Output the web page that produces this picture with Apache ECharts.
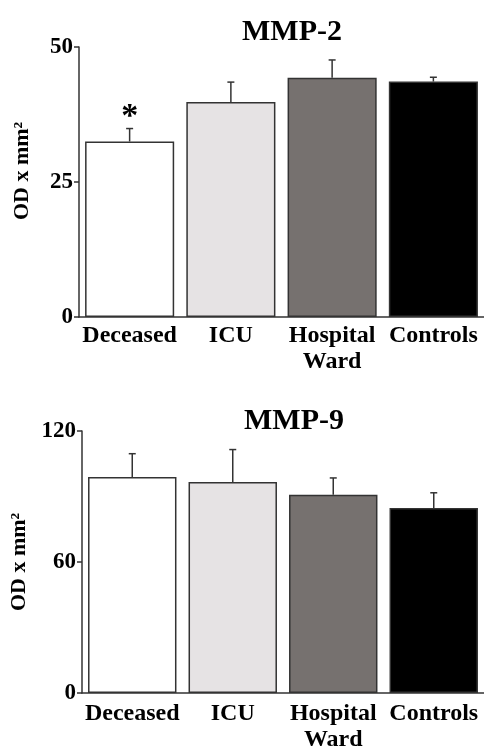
<!DOCTYPE html>
<html>
<head>
<meta charset="utf-8">
<script src="https://cdn.jsdelivr.net/npm/echarts@6/dist/echarts.min.js"></script>
<style>
html,body{margin:0;padding:0;background:#fff;}
#c{width:484px;height:753px;}
</style>
</head>
<body>
<div id="c"></div>
<script>
// ---- data ----
const categories = ['Deceased', 'ICU', 'Hospital\nWard', 'Controls'];
const barColors = ['#ffffff', '#e6e3e4', '#76716f', '#000000'];
const mmp2Mean = [32.5, 39.8, 44.3, 43.6];
const mmp2Err = [2.4, 3.7, 3.3, 0.8];
const mmp2Sig = ['*', '', '', ''];
const mmp9Mean = [98.9, 96.6, 90.8, 84.7];
const mmp9Err = [10.7, 14.9, 7.7, 7.0];
const mmp9Sig = ['', '', '', ''];
const mmp2Ticks = { min: 0, max: 50, interval: 25 };
const mmp9Ticks = { min: 0, max: 120, interval: 60 };
const titles = ['MMP-2', 'MMP-9'];
const yName = 'OD x mm\u00B2';

const FONT = '"Liberation Serif", "Times New Roman", serif';
const AX = '#333';

function errSeries(axisIdx, mean, err, sig) {
  return {
    type: 'custom',
    xAxisIndex: axisIdx, yAxisIndex: axisIdx,
    z: 5,
    data: mean.map((m, i) => [i, m, err[i]]),
    renderItem: function (params, api) {
      const i = api.value(0), m = api.value(1), e = api.value(2);
      const p0 = api.coord([i, m]);
      const p1 = api.coord([i, m + e]);
      const children = [
        { type: 'line', shape: { x1: p0[0], y1: p0[1], x2: p1[0], y2: p1[1] }, style: { stroke: AX, lineWidth: 1.5 } },
        { type: 'line', shape: { x1: p1[0] - 3.5, y1: p1[1], x2: p1[0] + 3.5, y2: p1[1] }, style: { stroke: AX, lineWidth: 1.5 } }
      ];
      const s = sig[params.dataIndex];
      if (s) {
        children.push({ type: 'text', style: { text: s, x: p1[0], y: p1[1] + 6, align: 'center', verticalAlign: 'bottom', font: 'bold 34px ' + FONT, fill: '#000' } });
      }
      return { type: 'group', children: children };
    }
  };
}

function barSeries(axisIdx, mean) {
  return {
    type: 'bar',
    xAxisIndex: axisIdx, yAxisIndex: axisIdx,
    barCategoryGap: '12%',
    data: mean.map((v, i) => ({ value: v, itemStyle: { color: barColors[i] } })),
    itemStyle: { borderColor: AX, borderWidth: 1.5 }
  };
}

function xAx(idx, margin) {
  return {
    type: 'category', gridIndex: idx, data: categories,
    axisLine: { lineStyle: { color: AX, width: 1.5 } },
    axisTick: { alignWithLabel: true, length: 5, lineStyle: { color: AX, width: 1.5 } },
    axisLabel: { interval: 0, color: '#000', fontFamily: FONT, fontWeight: 'bold', fontSize: 24, lineHeight: 26, margin: margin }
  };
}
function yAx(idx, t, pad) {
  return {
    type: 'value', gridIndex: idx, min: t.min, max: t.max, interval: t.interval,
    name: yName, nameLocation: 'middle', nameGap: 46, nameRotate: 90,
    nameTextStyle: { color: '#000', fontFamily: FONT, fontWeight: 'bold', fontSize: 22, padding: pad },
    axisLine: { show: true, lineStyle: { color: AX, width: 1.5 } },
    axisTick: { show: true, length: 5, lineStyle: { color: AX, width: 1.5 } },
    splitLine: { show: false },
    axisLabel: { color: '#000', fontFamily: FONT, fontWeight: 'bold', fontSize: 23, margin: 6 }
  };
}

const chart = echarts.init(document.getElementById('c'));
chart.setOption({
  backgroundColor: '#fff',
  animation: false,
  title: [
    { text: titles[0], left: 287, top: 12, textAlign: 'center', textStyle: { fontFamily: FONT, fontWeight: 'bold', fontSize: 30, color: '#000' } },
    { text: titles[1], left: 289, top: 401, textAlign: 'center', textStyle: { fontFamily: FONT, fontWeight: 'bold', fontSize: 30, color: '#000' } }
  ],
  grid: [
    { left: 79, top: 47, width: 405, height: 270 },
    { left: 82, top: 431, width: 405, height: 269 }
  ],
  xAxis: [xAx(0, 6), xAx(1, 8)],
  yAxis: [yAx(0, mmp2Ticks, [0, 0, 0, 22]), yAx(1, mmp9Ticks, [0, 0, 0, 0])],
  series: [
    barSeries(0, mmp2Mean), errSeries(0, mmp2Mean, mmp2Err, mmp2Sig),
    barSeries(1, mmp9Mean), errSeries(1, mmp9Mean, mmp9Err, mmp9Sig)
  ]
});
</script>
</body>
</html>
